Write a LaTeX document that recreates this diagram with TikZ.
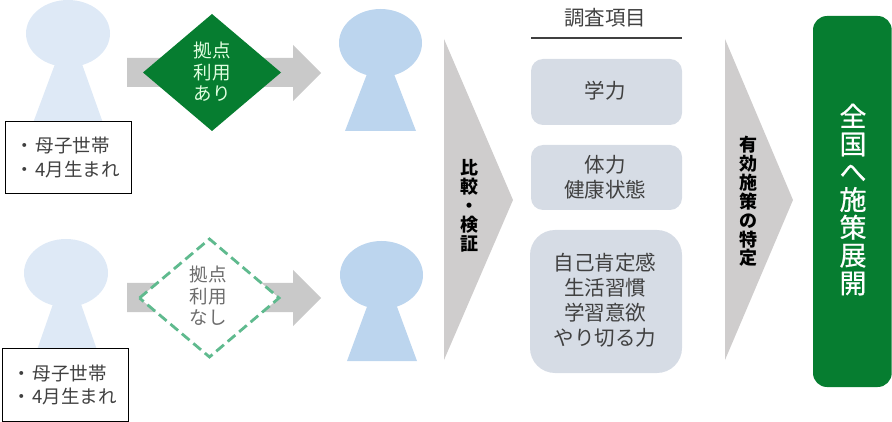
\documentclass[tikz,border=0pt]{standalone}
\usepackage{fontspec}
\setmainfont{Noto Sans CJK JP}
\newfontfamily\medfont[FakeBold=0.6]{Noto Sans CJK JP}
\usetikzlibrary{positioning}
\definecolor{pale}{HTML}{DEE9F6}
\definecolor{mid}{HTML}{BCD5EE}
\definecolor{arrowgrey}{HTML}{C9C9C9}
\definecolor{chevgrey}{HTML}{CFCDCD}
\definecolor{boxblue}{HTML}{D6DCE5}
\definecolor{deepgreen}{HTML}{067D30}
\definecolor{dashgreen}{HTML}{5FBA8E}
\definecolor{softtext}{HTML}{404040}
\tikzset{
  px/.style={x=1pt,y=-1pt},
  item/.style={align=center,inner sep=0pt,text=softtext,font=\fontsize{20.5}{25}\selectfont},
  bigstack/.style={align=center,inner sep=0pt,text=white,font=\medfont\fontsize{27}{27.8}\selectfont},
  sidestack/.style={align=center,inner sep=0pt,text=black,font=\bfseries\fontsize{18}{18.9}\selectfont},
  diamondtext/.style={align=center,inner sep=0pt,font=\fontsize{18.5}{21.5}\selectfont},
  infobox/.style={draw=black,line width=1pt,fill=white},
  infotext/.style={align=left,anchor=west,inner sep=0pt,text=softtext,font=\fontsize{18.5}{23.5}\selectfont},
}
\begin{document}
\begin{tikzpicture}[px]
\useasboundingbox (0,0) rectangle (892,422);
% people
\fill[pale] (68,33.5) ellipse [x radius=42,y radius=33.5];
\fill[pale] (55,64) -- (82,64) -- (103,123) -- (33,123) -- cycle;
\fill[mid] (380.5,43) ellipse [x radius=41.5,y radius=34];
\fill[mid] (367,74) -- (394,74) -- (416,131) -- (345,131) -- cycle;
\fill[pale] (66,273) ellipse [x radius=42,y radius=34];
\fill[pale] (53,304) -- (81,304) -- (97,350) -- (37,350) -- cycle;
\fill[mid] (381.5,275) ellipse [x radius=41.5,y radius=34];
\fill[mid] (368,304) -- (396,304) -- (417,361) -- (347,361) -- cycle;
% arrows
\fill[arrowgrey] (127,58) -- (293,58) -- (293,45) -- (321,73) -- (293,101) -- (293,87) -- (127,87) -- cycle;
\fill[arrowgrey] (127,283) -- (293,283) -- (293,270) -- (321,298) -- (293,326) -- (293,312) -- (127,312) -- cycle;
% diamonds
\fill[deepgreen] (143,72.5) -- (212,14) -- (281,72.5) -- (212,131) -- cycle;
\node[diamondtext,text=white!88!green] (d1) at (212,72) {拠点\\利用\\あり};
\draw[dashgreen,fill=white,line width=2.8pt,dash pattern=on 10pt off 5pt,line join=miter] (139.5,298) -- (209.5,239) -- (279,298) -- (209.5,357) -- cycle;
\node[diamondtext,text=gray!85!black] (d2) at (208,296) {拠点\\利用\\なし};
% info boxes
\draw[infobox] (5.5,121.5) rectangle (131,194);
\node[infotext] (i1) at (15,157.5) {・\hspace{2pt}母子世帯\\・\hspace{2pt}4月生まれ};
\draw[infobox] (2.7,348.5) rectangle (128,421);
\node[infotext] (i2) at (12,385) {・\hspace{2pt}母子世帯\\・\hspace{2pt}4月生まれ};
% chevrons
\fill[chevgrey] (444,39) -- (513,200) -- (444,360) -- cycle;
\fill[chevgrey] (725,39) -- (793,200) -- (725,360) -- cycle;
\node[sidestack] (s1) at (469.5,206) {比\\較\\・\\検\\証};
\node[sidestack] (s2) at (748,201.5) {有\\効\\施\\策\\の\\特\\定};
% survey column
\node[item] (title) at (605,18) {調査項目};
\coordinate (ruleL) at (531,38);
\coordinate (ruleR) at (682,38);
\draw[softtext,line width=1.5pt] (ruleL) -- (ruleR);
\fill[boxblue,rounded corners=12pt] (531,59) rectangle (682,125);
\node[item] (b1) at (605,91) {学力};
\fill[boxblue,rounded corners=12pt] (531,145) rectangle (682,210);
\node[item] (b2) at (605,177.5) {体力\\健康状態};
\fill[boxblue,rounded corners=25pt] (530,230) rectangle (682,373);
\node[item] (b3) at (605,300) {自己肯定感\\生活習慣\\学習意欲\\やり切る力};
% result
\fill[deepgreen,rounded corners=14pt] (813,16) rectangle (891.7,387);
\node[bigstack] (r) at (853,199.5) {全\\国\\へ\\施\\策\\展\\開};
\end{tikzpicture}
\end{document}
